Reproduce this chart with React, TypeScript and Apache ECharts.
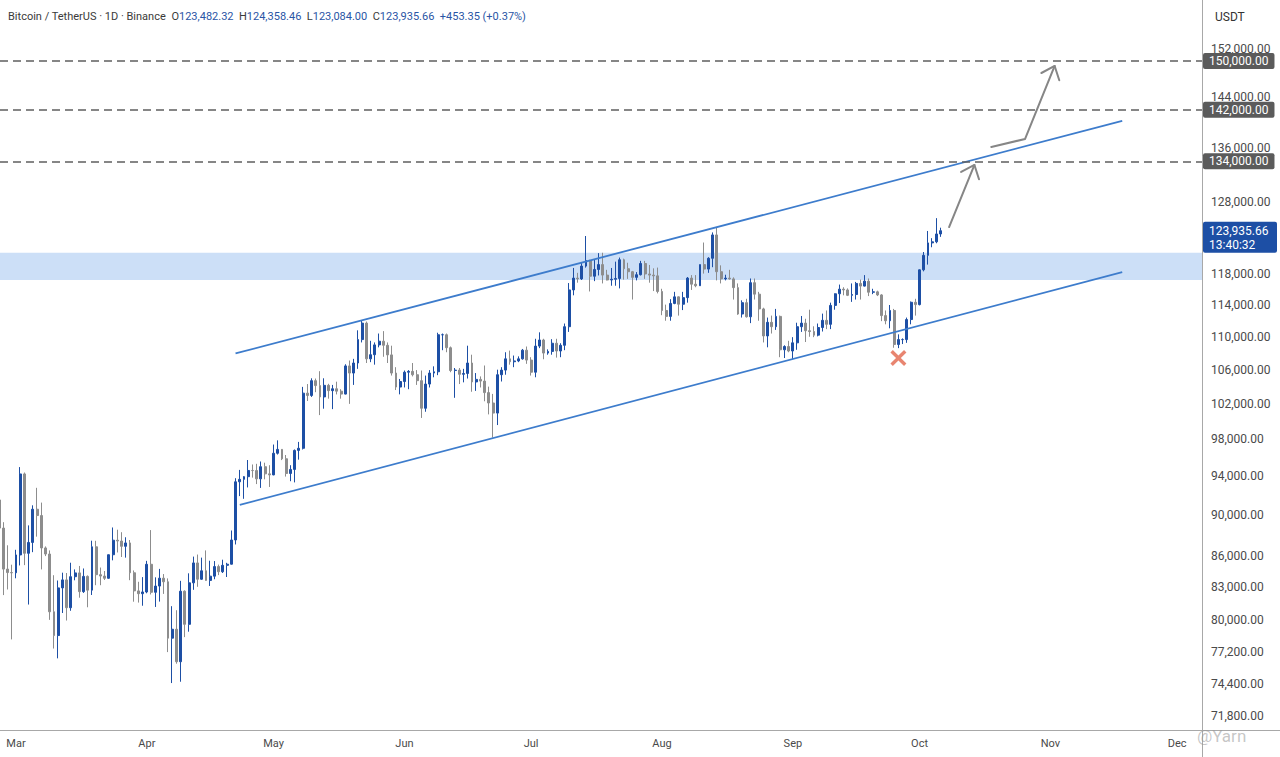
import React, { useEffect, useRef } from "react";
import * as echarts from "echarts";

// ---------- data ----------
const axisOrigin = "2025-03-01";
const startDate = "2025-02-25";
const firstOpen = 91550;
const openOverrides: Record<string, number> = { "2025-10-06": 123482.32 };

const closes = [
  88700, 84700, 84370, 84350,
  86060, 94270, 86220, 87280, 90600, 89960, 86740, 86150, 80730, 78600,
  82930, 83680, 81100, 83980, 84340, 82580, 84010, 82720, 86850, 84170,
  84040, 83830, 86080, 87500, 87420, 86900, 87230, 84350, 82650, 82390, 82550,
  85160, 82520, 83100, 83840, 83500, 78370, 79160, 76320, 82620, 79600,
  83400, 85290, 83740, 84540, 83630, 84030, 84940, 84450, 85060, 85170,
  87520, 93440, 93700, 93980, 94640, 94630, 93750, 95040, 94280, 94170,
  96490, 96910, 95890, 94320, 94750, 96800, 97030, 103240, 102970, 104700,
  104120, 102800, 104150, 103530, 103750, 103470, 103130, 106450, 105600, 106800,
  109650, 111700, 107300, 107800, 109000, 109450, 108950, 107780, 105600, 103950, 104600,
  105700, 105800, 105400, 104700, 101500, 104300, 105600, 105750, 110250, 110250,
  108650, 105900, 105950, 105450, 105550, 106800, 104550, 104850, 104650, 103300,
  102100, 100950, 105400, 105950, 107300, 106950, 107050, 107300, 108350, 107150,
  105700, 108850, 109600, 108000, 108200, 109200, 108250, 108950, 111250, 115950,
  117500, 117400, 119100, 119850, 117750, 118650, 119300, 117900, 117250, 117350,
  117450, 119950, 118750, 118350, 117600, 117950, 119450, 118050, 117900, 117800, 115750,
  113300, 112550, 114200, 115050, 114100, 114950, 117500, 116700, 116500, 119300,
  118700, 120150, 123350, 118350, 117400, 117500, 117400, 116250, 112850, 114300,
  112500, 116900, 115400, 113500, 110100, 111800, 111250, 112550, 108400, 108800, 108250,
  109250, 111250, 111700, 110750, 110650, 110200, 111150, 112050, 111550, 113950,
  115450, 116050, 115950, 115250, 115350, 116800, 116450, 117100, 115650, 115700,
  115300, 112650, 112000, 113300, 109050, 109650, 109650, 112150, 114350, 114050,
  118600, 120550, 122250, 122400, 123482.31, 123935.66,
];

const highs = [
  92540, 89290, 87000, 85120,
  86560, 95000, 94420, 88970, 91000, 92810, 91280, 86890, 86500, 84120,
  83620, 84360, 84330, 85310, 84670, 85000, 84760, 84100, 87450, 87440,
  84850, 84520, 86100, 88760, 88540, 88290, 87790, 87520, 84570, 83500, 83940,
  85490, 88500, 83920, 84720, 84230, 83820, 81240, 80870, 83590, 82700,
  84300, 85900, 86100, 85800, 86500, 85500, 85470, 85130, 85600, 85300,
  88460, 93820, 94700, 94040, 95760, 95280, 95350, 95600, 95470, 95200,
  97440, 97900, 96950, 96300, 95200, 96900, 97730, 103970, 104300, 104980,
  104950, 105820, 104980, 104330, 104200, 104580, 103700, 106650, 107100, 107300,
  110800, 111980, 111900, 109500, 109300, 110400, 110700, 109300, 108900, 106300, 104900,
  105900, 105950, 106800, 105950, 105900, 105300, 105950, 106400, 110500, 110400,
  110400, 108800, 106200, 106200, 106100, 108900, 107800, 105600, 105200, 106500,
  104000, 103150, 106000, 106300, 108100, 108300, 107700, 107600, 108500, 108800,
  107500, 109750, 110550, 109750, 108450, 109700, 109750, 109200, 111650, 116850,
  118850, 118200, 119500, 123200, 119950, 120050, 120850, 120900, 118600, 118850,
  119700, 120250, 120100, 119550, 118450, 118300, 119800, 119800, 119250, 118800, 118900,
  116100, 114050, 114750, 115700, 115100, 115700, 117650, 117900, 117900, 119300,
  122300, 120300, 123700, 124450, 119200, 117950, 118600, 117600, 116800, 114600,
  114800, 117450, 117450, 115700, 113650, 112400, 112650, 113500, 112650, 108950, 109500,
  109950, 111750, 112600, 112250, 113400, 111300, 111650, 112900, 113300, 114300,
  115500, 116650, 116300, 116150, 116800, 117000, 117300, 117900, 117450, 116100,
  115850, 115400, 113300, 114000, 113500, 110300, 109800, 112400, 114450, 114800,
  118650, 121000, 123900, 122900, 125700, 124358.46,
];

const lows = [
  86050, 82260, 82780, 78260,
  83830, 85050, 85080, 81390, 86330, 87850, 84670, 85950, 80000, 77460,
  76610, 80620, 79940, 80820, 83640, 82020, 82460, 81140, 82270, 83180,
  83180, 83670, 83790, 85540, 86300, 85860, 85800, 83650, 81650, 81570, 81280,
  82430, 82320, 81170, 81660, 82370, 77150, 74510, 76150, 74620, 78460,
  78940, 82750, 83030, 83680, 83600, 83110, 83740, 84130, 84330, 83950,
  85140, 87080, 91950, 91670, 92850, 93880, 93200, 92800, 93700, 92900,
  94130, 96350, 95750, 93990, 93500, 93380, 95800, 96900, 102330, 102800,
  103350, 100720, 101450, 102600, 101400, 103090, 102600, 103100, 102000, 104200,
  106100, 109300, 106800, 106900, 106600, 108700, 107550, 106800, 105300, 103600, 103100,
  103900, 103700, 105200, 104200, 100400, 101100, 103900, 105100, 105350, 108350,
  108100, 105700, 102700, 104300, 104500, 104950, 103400, 103500, 103900, 102300,
  100800, 98200, 99600, 104600, 105400, 106600, 106300, 106900, 107200, 106700,
  105300, 105100, 108600, 107250, 107800, 107800, 107450, 107500, 108350, 110600,
  115250, 116900, 117250, 118900, 115750, 117100, 117850, 116800, 117200, 116500,
  116500, 116150, 117300, 117400, 114700, 117200, 117850, 117400, 116900, 115800, 115500,
  112700, 112000, 112000, 114100, 112650, 113350, 114300, 115950, 116300, 116500,
  118100, 118200, 118950, 117200, 116800, 117200, 117300, 114700, 112750, 112400,
  112400, 111700, 114700, 112000, 109300, 108700, 110400, 110850, 107500, 107400, 108100,
  107250, 108400, 110600, 109350, 110000, 109950, 110050, 110650, 110950, 110950,
  113400, 114250, 115250, 115150, 114400, 114700, 114700, 116400, 115150, 115400,
  115150, 111950, 111550, 111050, 108650, 108600, 109100, 109250, 111550, 112650,
  113950, 118400, 119300, 121650, 122200, 123084,
];

const priceTicks = [
  71800, 74400, 77200, 80000, 83000, 86000, 90000, 94000, 98000, 102000,
  106000, 110000, 114000, 118000, 128000, 136000, 144000, 152000,
];
const monthTickDates = [
  "2025-03-01", "2025-04-01", "2025-05-01", "2025-06-01", "2025-07-01",
  "2025-08-01", "2025-09-01", "2025-10-01", "2025-11-01", "2025-12-01",
];
const monthLabels = ["Mar", "Apr", "May", "Jun", "Jul", "Aug", "Sep", "Oct", "Nov", "Dec"];

const keyLevels = [134000, 142000, 150000];
const supplyZone = [117250, 120900];
const channelUpper: [string, number][] = [["2025-04-22", 107950], ["2025-11-18", 140250]];
const channelLower: [string, number][] = [["2025-04-23", 91050], ["2025-11-18", 118300]];
const arrowA: [string, number][] = [["2025-10-08", 124450], ["2025-10-14", 133450]];
const arrowB: [string, number][] = [["2025-10-18", 136180], ["2025-10-26", 137410], ["2025-11-02", 149170]];
const failedBreak: [string, number] = ["2025-09-26", 107400];

const header = { symbol: "Bitcoin / TetherUS · 1D · Binance", timer: "13:40:32", quote: "USDT" };

// ---------- helpers ----------
const MS_DAY = 86400000;
function dayIndex(date: string): number {
  return Math.round((Date.parse(date) - Date.parse(axisOrigin)) / MS_DAY);
}
function fmt(v: number): string {
  return v.toLocaleString("en-US", { minimumFractionDigits: 2, maximumFractionDigits: 2 });
}

const UP = "#1d4fa5";
const DOWN = "#8d8d8d";
const FONT = "Roboto, 'Noto Sans', sans-serif";

export default function App() {
  const ref = useRef<HTMLDivElement>(null);

  useEffect(() => {
    document.body.style.margin = "0";
    const el = ref.current;
    if (!el) return;
    const chart = echarts.init(el, null, { renderer: "svg" });

    const first = dayIndex(startDate);
    const opens = closes.map((_, i) => (i === 0 ? firstOpen : closes[i - 1]));
    const candleData = closes.map((c, i) => {
      const d = new Date(Date.parse(startDate) + i * MS_DAY).toISOString().slice(0, 10);
      const o = openOverrides[d] ?? opens[i];
      return [first + i, Math.log(o), Math.log(c), Math.log(lows[i]), Math.log(highs[i])];
    });
    const monthDays = monthTickDates.map(dayIndex);

    const option: any = {
      animation: false,
      backgroundColor: "#ffffff",
      textStyle: { fontFamily: FONT },
      grid: { left: 0, top: 0, right: 78, bottom: 26.5 },
      xAxis: {
        type: "value",
        min: -3.79,
        max: 280.9,
        axisLine: { show: true, onZero: false, lineStyle: { color: "#a8a8a8", width: 1 } },
        axisTick: { show: false },
        splitLine: { show: false },
        axisLabel: {
          customValues: monthDays,
          formatter: (v: number) => monthLabels[monthDays.indexOf(Math.round(v))] ?? "",
          color: "#4a4a4a",
          fontSize: 11,
          fontFamily: FONT,
          margin: 7,
        },
      },
      yAxis: {
        type: "value",
        position: "right",
        min: Math.log(70638),
        max: Math.log(160660),
        axisLine: { show: true, onZero: false, lineStyle: { color: "#a8a8a8", width: 1 } },
        axisTick: { show: false },
        splitLine: { show: false },
        axisLabel: {
          customValues: priceTicks.map((p) => Math.log(p)),
          formatter: (v: number) => fmt(Math.round(Math.exp(v) / 100) * 100),
          color: "#4a4a4a",
          fontSize: 12,
          fontFamily: FONT,
          margin: 9,
        },
      },
      series: [
        {
          type: "candlestick",
          data: candleData,
          encode: { x: 0, y: [1, 2, 3, 4] },
          barWidth: 2.4,
          itemStyle: { color: UP, color0: DOWN, borderColor: UP, borderColor0: DOWN, borderWidth: 1 },
          markArea: {
            silent: true,
            itemStyle: { color: "rgba(120,170,235,0.38)" },
            data: [[{ yAxis: Math.log(supplyZone[0]) }, { yAxis: Math.log(supplyZone[1]) }]],
          },
          markLine: {
            silent: true,
            symbol: "none",
            precision: 8,
            lineStyle: { color: "#5f5f5f", width: 1.6, type: [8, 5] },
            label: {
              position: "end",
              distance: 1,
              formatter: (p: any) => p.name,
              backgroundColor: "#5b5b5b",
              color: "#ffffff",
              fontSize: 12,
              fontFamily: FONT,
              padding: [2, 6, 2, 6],
              borderRadius: 2,
            },
            data: keyLevels.map((v) => ({ name: fmt(v), yAxis: Math.log(v) })),
          },
        },
        {
          type: "line",
          data: channelUpper.map(([d, p]) => [dayIndex(d), Math.log(p)]),
          symbol: "none",
          lineStyle: { color: "#3d7ccc", width: 1.8 },
          z: 4,
        },
        {
          type: "line",
          data: channelLower.map(([d, p]) => [dayIndex(d), Math.log(p)]),
          symbol: "none",
          lineStyle: { color: "#3d7ccc", width: 1.8 },
          z: 4,
        },
        {
          type: "scatter",
          data: [[dayIndex(failedBreak[0]), Math.log(failedBreak[1])]],
          symbol: "path://M0,3 L3,0 L10,7 L17,0 L20,3 L13,10 L20,17 L17,20 L10,13 L3,20 L0,17 L7,10 Z",
          symbolSize: 16,
          itemStyle: { color: "#e2674c" },
          z: 5,
        },
      ],
    };
    chart.setOption(option);

    const px = (d: string, p: number): number[] =>
      chart.convertToPixel({ gridIndex: 0 }, [dayIndex(d), Math.log(p)]) as number[];

    const arrowStyle = { stroke: "#868686", lineWidth: 2, fill: "none", lineCap: "round", lineJoin: "round" };
    const arrowHead = (from: number[], tip: number[]) => {
      const a = Math.atan2(from[1] - tip[1], from[0] - tip[0]);
      const L = 15;
      const s = (40 * Math.PI) / 180;
      return [
        [tip[0] + L * Math.cos(a + s), tip[1] + L * Math.sin(a + s)],
        tip,
        [tip[0] + L * Math.cos(a - s), tip[1] + L * Math.sin(a - s)],
      ];
    };
    const graphics: any[] = [];
    [arrowA, arrowB].forEach((arr) => {
      const pts = arr.map(([d, p]) => px(d, p));
      graphics.push({ type: "polyline", shape: { points: pts }, style: arrowStyle, z: 10 });
      graphics.push({
        type: "polyline",
        shape: { points: arrowHead(pts[pts.length - 2], pts[pts.length - 1]) },
        style: arrowStyle,
        z: 10,
      });
    });

    const n = closes.length;
    const lastClose = closes[n - 1];
    const lastOpen = candleData[n - 1][1];
    const prevClose = closes[n - 2];
    const change = lastClose - prevClose;
    const pct = (change / prevClose) * 100;
    const py = px(startDate, lastClose)[1];

    graphics.push({
      type: "rect",
      shape: { x: 1203, y: py - 9, width: 74, height: 31, r: 2 },
      style: { fill: UP },
      z: 20,
    });
    graphics.push({
      type: "text",
      x: 1209,
      y: py,
      style: { text: fmt(lastClose), fill: "#ffffff", fontSize: 12, fontFamily: FONT, verticalAlign: "middle" },
      z: 21,
    });
    graphics.push({
      type: "text",
      x: 1209,
      y: py + 14,
      style: { text: header.timer, fill: "#ffffff", fontSize: 12, fontFamily: FONT, verticalAlign: "middle" },
      z: 21,
    });
    graphics.push({
      type: "rect",
      shape: { x: 1203, y: 3, width: 74, height: 28 },
      style: { fill: "#ffffff" },
      z: 20,
    });
    graphics.push({
      type: "text",
      x: 1215,
      y: 17,
      style: { text: header.quote, fill: "#333333", fontSize: 12, fontFamily: FONT, verticalAlign: "middle" },
      z: 21,
    });
    graphics.push({
      type: "line",
      shape: { x1: 1202, y1: 730.5, x2: 1280, y2: 730.5 },
      style: { stroke: "#a8a8a8", lineWidth: 1 },
      z: 20,
    });
    graphics.push({
      type: "line",
      shape: { x1: 1202.5, y1: 730.5, x2: 1202.5, y2: 757 },
      style: { stroke: "#a8a8a8", lineWidth: 1 },
      z: 20,
    });

    const sign = change >= 0 ? "+" : "";
    const headerText =
      `{n|${header.symbol}}  ` +
      `{k|O}{v|${fmt(Math.exp(lastOpen))}}  ` +
      `{k|H}{v|${fmt(highs[n - 1])}}  ` +
      `{k|L}{v|${fmt(lows[n - 1])}}  ` +
      `{k|C}{v|${fmt(lastClose)}}  ` +
      `{v|${sign}${fmt(change)} (${sign}${pct.toFixed(2)}%)}`;
    graphics.push({
      type: "text",
      x: 8,
      y: 16,
      style: {
        text: headerText,
        fontSize: 11,
        fontFamily: FONT,
        verticalAlign: "middle",
        rich: {
          n: { fill: "#3a3a3a", fontSize: 11, fontFamily: FONT },
          k: { fill: "#3a3a3a", fontSize: 11, fontFamily: FONT },
          v: { fill: "#2a55a5", fontSize: 11, fontFamily: FONT },
        },
      },
      z: 21,
    });
    graphics.push({
      type: "text",
      x: 1197,
      y: 736,
      style: { text: "@Yarn", fill: "rgba(150,150,150,0.55)", fontSize: 17, fontFamily: FONT, verticalAlign: "middle" },
      z: 22,
    });

    chart.setOption({ graphic: graphics });

    return () => chart.dispose();
  }, []);

  return <div ref={ref} style={{ width: 1280, height: 757 }} />;
}
